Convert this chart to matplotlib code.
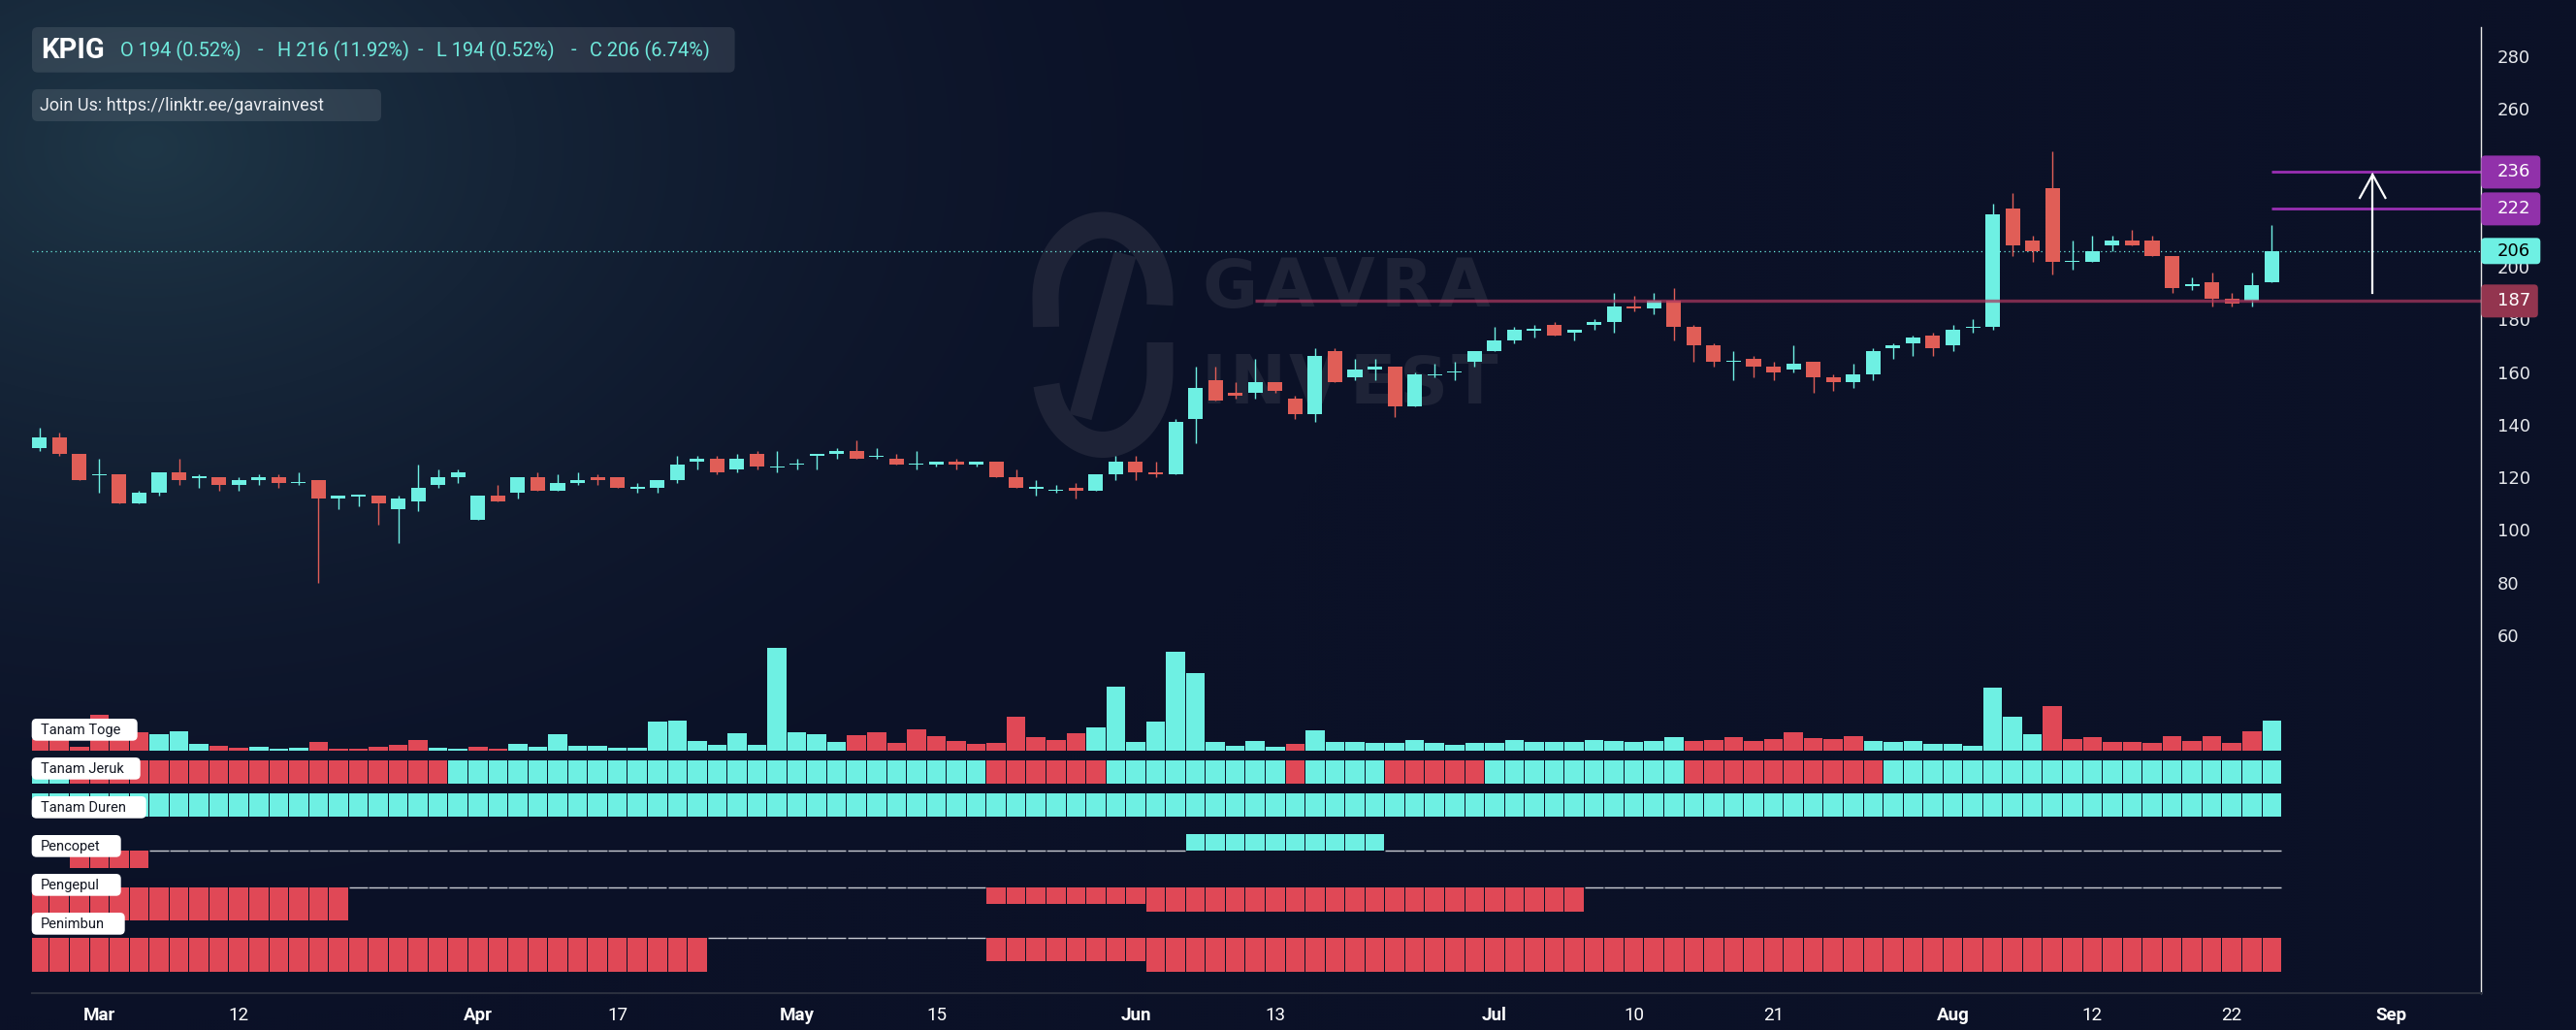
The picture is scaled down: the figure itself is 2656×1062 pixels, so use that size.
import numpy as np
import matplotlib
matplotlib.use("Agg")
import matplotlib.pyplot as plt
from matplotlib.patches import FancyBboxPatch

# ---------------- data ----------------
symbol = "KPIG"
header_fields = ["O 194 (0.52%)", "-", "H 216 (11.92%)", "-", "L 194 (0.52%)", "-", "C 206 (6.74%)"]
link_text = "Join Us: https://linktr.ee/gavrainvest"

opens = [131, 135, 129, 121, 121, 110, 114, 122, 120, 120,
         117, 119, 120, 118, 119, 112, 113, 113, 108, 111,
         117, 120, 104, 113, 114, 120, 115, 118, 120, 120,
         116, 116, 119, 126, 127, 123, 129, 124, 125, 128,
         129, 130, 128, 127, 125, 125, 126, 125, 126, 120,
         116, 115, 116, 115, 121, 126, 122, 121, 142, 157,
         152, 152, 156, 150, 144, 168, 158, 161, 162, 147,
         159, 160, 164, 168, 172, 176, 178, 175, 178, 179,
         185, 184, 187, 177, 170, 164, 165, 162, 161, 164,
         158, 156, 159, 169, 171, 174, 170, 177, 177, 222,
         210, 230, 202, 202, 208, 210, 210, 204, 193, 194,
         188, 187, 194]
highs = [139, 137, 129, 127, 121, 115, 122, 127, 121, 120,
         120, 121, 121, 122, 119, 113, 113, 113, 113, 125,
         123, 123, 113, 117, 120, 122, 121, 122, 121, 120,
         118, 119, 128, 128, 128, 129, 130, 130, 127, 129,
         131, 134, 131, 129, 130, 126, 127, 126, 126, 123,
         119, 117, 118, 121, 128, 128, 126, 142, 162, 162,
         156, 165, 156, 151, 169, 169, 165, 165, 162, 160,
         163, 164, 168, 177, 177, 178, 179, 176, 180, 190,
         189, 190, 192, 178, 171, 168, 166, 164, 170, 164,
         159, 163, 169, 171, 174, 175, 178, 180, 224, 228,
         212, 244, 210, 212, 212, 214, 212, 204, 196, 198,
         190, 198, 216]
lows = [130, 128, 119, 114, 110, 110, 113, 117, 116, 115,
        115, 117, 116, 117, 80, 108, 109, 102, 95, 107,
        116, 118, 104, 111, 112, 115, 115, 117, 117, 116,
        114, 114, 118, 123, 121, 122, 123, 122, 123, 123,
        127, 127, 127, 125, 123, 124, 123, 124, 120, 116,
        113, 114, 112, 115, 119, 119, 120, 121, 133, 149,
        150, 150, 152, 142, 141, 156, 157, 157, 143, 147,
        158, 157, 162, 168, 171, 173, 174, 172, 176, 175,
        183, 182, 172, 164, 162, 157, 158, 157, 160, 152,
        153, 154, 157, 165, 166, 166, 168, 175, 176, 204,
        202, 197, 199, 202, 206, 208, 204, 190, 191, 185,
        185, 185, 194]
closes = [135, 129, 119, 121, 110, 114, 122, 119, 120, 117,
          119, 120, 118, 118, 112, 113, 113, 110, 112, 116,
          120, 122, 113, 111, 120, 115, 118, 119, 119, 116,
          116, 119, 125, 127, 122, 127, 124, 124, 125, 129,
          130, 127, 128, 125, 125, 126, 125, 126, 120, 116,
          116, 115, 115, 121, 126, 122, 121, 141, 154, 149,
          151, 156, 153, 144, 166, 156, 161, 162, 147, 159,
          159, 160, 168, 172, 176, 176, 174, 176, 179, 185,
          184, 187, 177, 170, 164, 164, 162, 160, 163, 158,
          156, 159, 168, 170, 173, 169, 176, 177, 220, 208,
          206, 202, 202, 206, 210, 208, 204, 192, 193, 188,
          186, 193, 206]

# "Tanam Toge" histogram (volume) and its colour state (1 = cyan, 0 = red)
volume = [12, 11, 4, 37, 14, 19, 17, 20, 7, 5,
          3, 4, 2, 3, 9, 2, 2, 4, 6, 11,
          3, 2, 4, 2, 7, 4, 17, 5, 5, 3,
          3, 30, 31, 10, 6, 18, 6, 106, 19, 17,
          9, 16, 19, 8, 22, 15, 10, 7, 8, 35,
          14, 11, 18, 24, 66, 9, 30, 102, 80, 9,
          5, 10, 4, 7, 21, 9, 9, 8, 8, 11,
          8, 6, 8, 8, 11, 9, 9, 9, 11, 10,
          9, 10, 14, 10, 11, 14, 10, 12, 19, 13,
          12, 15, 10, 9, 10, 7, 7, 5, 65, 35,
          17, 46, 12, 14, 9, 9, 8, 15, 10, 15,
          8, 20, 31]
volume_state = [0, 0, 0, 0, 0, 0, 1, 1, 1, 0,
                0, 1, 1, 1, 0, 0, 0, 0, 0, 0,
                1, 1, 0, 0, 1, 1, 1, 1, 1, 1,
                1, 1, 1, 1, 1, 1, 1, 1, 1, 1,
                1, 0, 0, 0, 0, 0, 0, 0, 0, 0,
                0, 0, 0, 1, 1, 1, 1, 1, 1, 1,
                1, 1, 1, 0, 1, 1, 1, 1, 1, 1,
                1, 1, 1, 1, 1, 1, 1, 1, 1, 1,
                1, 1, 1, 0, 0, 0, 0, 0, 0, 0,
                0, 0, 1, 1, 1, 1, 1, 1, 1, 1,
                1, 0, 0, 0, 0, 0, 0, 0, 0, 0,
                0, 0, 1]
jeruk_state = [1, 1, 0, 0, 0, 0, 0, 0, 0, 0,
               0, 0, 0, 0, 0, 0, 0, 0, 0, 0,
               0, 1, 1, 1, 1, 1, 1, 1, 1, 1,
               1, 1, 1, 1, 1, 1, 1, 1, 1, 1,
               1, 1, 1, 1, 1, 1, 1, 1, 0, 0,
               0, 0, 0, 0, 1, 1, 1, 1, 1, 1,
               1, 1, 1, 0, 1, 1, 1, 1, 0, 0,
               0, 0, 0, 1, 1, 1, 1, 1, 1, 1,
               1, 1, 1, 0, 0, 0, 0, 0, 0, 0,
               0, 0, 0, 1, 1, 1, 1, 1, 1, 1,
               1, 1, 1, 1, 1, 1, 1, 1, 1, 1,
               1, 1, 1]
duren_state = [1, 1, 1, 1, 1, 1, 1, 1, 1, 1,
               1, 1, 1, 1, 1, 1, 1, 1, 1, 1,
               1, 1, 1, 1, 1, 1, 1, 1, 1, 1,
               1, 1, 1, 1, 1, 1, 1, 1, 1, 1,
               1, 1, 1, 1, 1, 1, 1, 1, 1, 1,
               1, 1, 1, 1, 1, 1, 1, 1, 1, 1,
               1, 1, 1, 1, 1, 1, 1, 1, 1, 1,
               1, 1, 1, 1, 1, 1, 1, 1, 1, 1,
               1, 1, 1, 1, 1, 1, 1, 1, 1, 1,
               1, 1, 1, 1, 1, 1, 1, 1, 1, 1,
               1, 1, 1, 1, 1, 1, 1, 1, 1, 1,
               1, 1, 1]
pencopet = [0, 0, -18, -18, -18, -18, 0, 0, 0, 0,
            0, 0, 0, 0, 0, 0, 0, 0, 0, 0,
            0, 0, 0, 0, 0, 0, 0, 0, 0, 0,
            0, 0, 0, 0, 0, 0, 0, 0, 0, 0,
            0, 0, 0, 0, 0, 0, 0, 0, 0, 0,
            0, 0, 0, 0, 0, 0, 0, 0, 17, 17,
            17, 17, 17, 17, 17, 17, 17, 17, 0, 0,
            0, 0, 0, 0, 0, 0, 0, 0, 0, 0,
            0, 0, 0, 0, 0, 0, 0, 0, 0, 0,
            0, 0, 0, 0, 0, 0, 0, 0, 0, 0,
            0, 0, 0, 0, 0, 0, 0, 0, 0, 0,
            0, 0, 0]
pengepul = [-34, -34, -34, -34, -34, -34, -34, -34, -34, -34,
            -34, -34, -34, -34, -34, -34, 0, 0, 0, 0,
            0, 0, 0, 0, 0, 0, 0, 0, 0, 0,
            0, 0, 0, 0, 0, 0, 0, 0, 0, 0,
            0, 0, 0, 0, 0, 0, 0, 0, -17, -17,
            -17, -17, -17, -17, -17, -17, -25, -25, -25, -25,
            -25, -25, -25, -25, -25, -25, -25, -25, -25, -25,
            -25, -25, -25, -25, -25, -25, -25, -25, 0, 0,
            0, 0, 0, 0, 0, 0, 0, 0, 0, 0,
            0, 0, 0, 0, 0, 0, 0, 0, 0, 0,
            0, 0, 0, 0, 0, 0, 0, 0, 0, 0,
            0, 0, 0]
penimbun = [-35, -35, -35, -35, -35, -35, -35, -35, -35, -35,
            -35, -35, -35, -35, -35, -35, -35, -35, -35, -35,
            -35, -35, -35, -35, -35, -35, -35, -35, -35, -35,
            -35, -35, -35, -35, 0, 0, 0, 0, 0, 0,
            0, 0, 0, 0, 0, 0, 0, 0, -24, -24,
            -24, -24, -24, -24, -24, -24, -35, -35, -35, -35,
            -35, -35, -35, -35, -35, -35, -35, -35, -35, -35,
            -35, -35, -35, -35, -35, -35, -35, -35, -35, -35,
            -35, -35, -35, -35, -35, -35, -35, -35, -35, -35,
            -35, -35, -35, -35, -35, -35, -35, -35, -35, -35,
            -35, -35, -35, -35, -35, -35, -35, -35, -35, -35,
            -35, -35, -35]
indicator_names = ["Tanam Toge", "Tanam Jeruk", "Tanam Duren", "Pencopet", "Pengepul", "Penimbun"]

tick_bars = [3, 10, 22, 29, 38, 45, 55, 62, 73, 80, 87, 96, 103, 110, 118]
tick_labels = ["Mar", "12", "Apr", "17", "May", "15", "Jun", "13", "Jul", "10", "21", "Aug", "12", "22", "Sep"]
month_labels = ["Mar", "Apr", "May", "Jun", "Jul", "Aug", "Sep"]
price_ticks = [60, 80, 100, 120, 140, 160, 180, 200, 240, 260, 280]

support_level = 187
support_from_bar = 61
target_levels = [222, 236]
target_from_bar = 112
arrow_bar = 117
arrow_from, arrow_to = 190, 235

# ---------------- style / layout ----------------
W, H = 2656, 1062
CYAN = "#6ef0e3"
RED_C = "#e05e57"
RED_I = "#e04856"
PURPLE = "#9131aa"
MAROON = "#93354f"
BASE = "#0b1127"
WM = "#1e2337"
TXT = "#e6e8ec"

XL, XR = 32.7, 2558.3
X0, DX = 40.7, 20.55
XLIM = ((XL - X0) / DX, (XR - X0) / DX)

fig = plt.figure(figsize=(W / 100, H / 100), dpi=100)
fig.patch.set_facecolor(BASE)


def px_axes(x0, y0, x1, y1, z=2):
    a = fig.add_axes([x0 / W, 1 - y1 / H, (x1 - x0) / W, (y1 - y0) / H], zorder=z)
    a.set_facecolor("none")
    for s in a.spines.values():
        s.set_visible(False)
    a.set_xlim(*XLIM)
    a.set_xticks([])
    a.set_yticks([])
    return a


# ---- background gradient + watermark ----
bg = fig.add_axes([0, 0, 1, 1], zorder=0)
yy, xx = np.mgrid[0:H:3, 0:W:3]
t = np.sqrt(((xx - 150) / 1300.0) ** 2 + ((yy - 150) / 900.0) ** 2)
f = np.clip(1 - t, 0, 1) ** 2
glow = np.array([0x1f, 0x37, 0x47]) / 255.0
base = np.array([0x0b, 0x11, 0x27]) / 255.0
img = base + (glow - base) * f[..., None]
bg.imshow(img, extent=[0, W, H, 0], aspect="auto", interpolation="bilinear")
bg.set_xlim(0, W)
bg.set_ylim(H, 0)
bg.axis("off")

# watermark logo (stylised link / S)
tt = np.linspace(np.pi, -0.1, 60)
xs = list(np.r_[1078.5, 1137 + 59 * np.cos(tt)])
ys = list(np.r_[337, 307 - 75 * np.sin(tt)])
bg.plot(xs, ys, color=WM, lw=19.5, solid_capstyle="butt", zorder=2)
tb = np.linspace(0, np.pi - 0.18, 60)
xs = list(np.r_[1196, 1137 + 59 * np.cos(tb)])
ys = list(np.r_[353, 383.5 + 75 * np.sin(tb)])
bg.plot(xs, ys, color=WM, lw=19.5, solid_capstyle="butt", zorder=2)
bg.plot([1160, 1114], [262, 430], color=WM, lw=17, solid_capstyle="butt", zorder=2)
for ch, cx in zip("GAVRA", [1268, 1329, 1391, 1450, 1510]):
    bg.text(cx, 297, ch, color=WM, fontsize=50, fontweight="bold", ha="center", va="center",
            family="DejaVu Sans", zorder=2)
for ch, cx in zip("INVEST", [1252, 1297, 1356, 1415, 1468, 1520]):
    bg.text(cx, 397, ch, color=WM, fontsize=50, fontweight="bold", ha="center", va="center",
            family="DejaVu Sans", zorder=2)

idx = np.arange(len(closes))
o = np.array(opens, float)
c = np.array(closes, float)
hi = np.array(highs, float)
lo = np.array(lows, float)

# ---- price pane ----
axp = px_axes(XL, 28, XR, 700, z=2)
py_lo = 60 + (654.9 - 700) / 2.713
py_hi = 60 + (654.9 - 28) / 2.713
axp.set_ylim(py_lo, py_hi)
up = c >= o
ccol = np.where(up, CYAN, RED_C)
axp.vlines(idx, lo, hi, colors=ccol, lw=1.0, zorder=3)
body = np.abs(c - o)
bh = np.maximum(body, 0.55)
axp.bar(idx, bh, bottom=np.minimum(o, c) - (bh - body) / 2, width=0.73, color=ccol,
        linewidth=0, zorder=4)

axp.axhline(c[-1], color=CYAN, lw=0.9, ls=(0, (1, 2.8)), zorder=2)
axp.hlines(support_level, support_from_bar, XLIM[1], color="#a9375e", alpha=0.72, lw=2.4, zorder=5)
for lv in target_levels:
    axp.hlines(lv, target_from_bar, XLIM[1], color="#9a2fb3", lw=2.0, zorder=5)

# arrow
axp.plot([arrow_bar + 0.06, arrow_bar + 0.06], [arrow_from, arrow_to], color="white", lw=1.6, zorder=6)
axp.plot([arrow_bar + 0.06 - 0.64, arrow_bar + 0.06, arrow_bar + 0.06 + 0.64],
         [arrow_to - 8.8, arrow_to, arrow_to - 8.8], color="white", lw=1.6, zorder=6,
         solid_joinstyle="miter")

axp.yaxis.tick_right()
axp.set_yticks(price_ticks)
axp.set_yticklabels([str(v) for v in price_ticks])
axp.tick_params(axis="y", length=0, pad=12, labelsize=13, labelcolor=TXT)

# ---- Tanam Toge (volume) ----
axv = px_axes(XL, 654, XR, 774)
axv.set_ylim(0, 120)
axv.bar(idx, volume, width=0.95, color=np.where(np.array(volume_state) == 1, CYAN, RED_I), linewidth=0)

# ---- Tanam Jeruk / Duren ----
axj = px_axes(XL, 784, XR, 808)
axj.set_ylim(0, 1)
axj.bar(idx, 1, width=0.95, color=np.where(np.array(jeruk_state) == 1, CYAN, RED_I), linewidth=0)
axd = px_axes(XL, 818, XR, 842)
axd.set_ylim(0, 1)
axd.bar(idx, 1, width=0.95, color=np.where(np.array(duren_state) == 1, CYAN, RED_I), linewidth=0)


def signed_row(y0, y1, ylim, vals):
    a = px_axes(XL, y0, XR, y1)
    a.set_ylim(*ylim)
    v = np.array(vals, float)
    a.bar(idx, v, width=0.95, color=np.where(v > 0, CYAN, RED_I), linewidth=0)
    z = idx[v == 0]
    a.hlines(np.zeros(len(z)), z - 0.47, z + 0.47, color="#c8cbd2", lw=1.0)
    return a


signed_row(857, 897, (-20, 20), pencopet)
signed_row(904.7, 954.7, (-40, 10), pengepul)
signed_row(957, 1007, (-40, 10), penimbun)

# ---- overlay (pixel space) ----
pix = fig.add_axes([0, 0, 1, 1], zorder=6)
pix.set_xlim(0, W)
pix.set_ylim(H, 0)
pix.axis("off")
pix.patch.set_alpha(0)

pix.plot([XR, XR], [28, 1024], color="#e8e8e8", lw=1.0)
pix.plot([XL, XR], [1024, 1024], color="#2a2f3e", lw=1.5)

for b, lab in zip(tick_bars, tick_labels):
    pix.text(X0 + DX * b, 1047, lab, color="white", fontsize=13.5, ha="center", va="center",
             family="Roboto", fontweight="bold" if lab in month_labels else "normal")


def price_px(p):
    return H - axp.transData.transform((0, p))[1]


for val, fc, tc, bhgt, bw in [(236, PURPLE, "white", 34, 61), (222, PURPLE, "white", 34, 61),
                               (206, CYAN, "black", 27, 61), (187, MAROON, "white", 34, 58.5)]:
    yc = price_px(val)
    pix.add_patch(FancyBboxPatch((XR, yc - bhgt / 2), bw, bhgt,
                                 boxstyle="round,pad=0,rounding_size=4", fc=fc, ec="none", zorder=3))
    pix.text(2575, yc, str(val), color=tc, fontsize=13, ha="left", va="center", zorder=4)

# header boxes
pix.add_patch(FancyBboxPatch((33, 28), 724.6, 46.7, boxstyle="round,pad=0,rounding_size=6",
                             fc="white", alpha=0.1, ec="none"))
pix.add_patch(FancyBboxPatch((33, 92), 360, 33, boxstyle="round,pad=0,rounding_size=6",
                             fc="white", alpha=0.1, ec="none"))
pix.text(42, 52, symbol, color="white", fontsize=21, fontweight="bold", family="Roboto",
         ha="left", va="center")
for txt, xx0 in zip(header_fields, [124, 266, 286, 431, 450, 589, 608]):
    pix.text(xx0, 52, txt, color="#6fe9dc", fontsize=14.4, family="Roboto", ha="left", va="center")
pix.text(41, 108.5, link_text, color="#eceef2", fontsize=13, family="Roboto", ha="left", va="center")

# indicator name tags
for name, top, wdt in zip(indicator_names, [741, 781, 821, 861, 901, 941], [109, 112, 118, 92, 92, 96]):
    pix.add_patch(FancyBboxPatch((32.7, top), wdt, 22.7, boxstyle="round,pad=0,rounding_size=5",
                                 fc="white", ec="none", zorder=3))
    pix.text(42, top + 11.6, name, color="#131722", fontsize=10.5, family="Roboto",
             ha="left", va="center", zorder=4)

fig.savefig("out.png", dpi=100, facecolor=BASE)
